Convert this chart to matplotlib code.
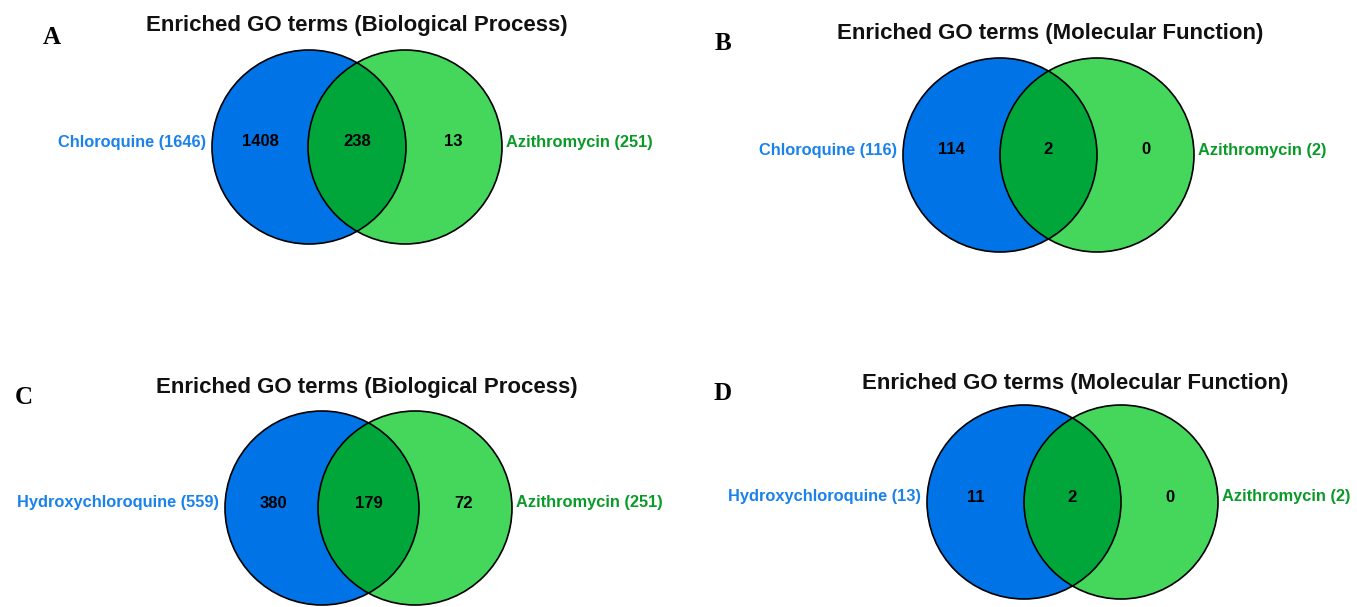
import matplotlib
matplotlib.use("Agg")
import matplotlib.pyplot as plt
from matplotlib.patches import Circle

# Venn counts for each panel
panel_letters = ["A", "B", "C", "D"]
panel_titles = [
    "Enriched GO terms (Biological Process)",
    "Enriched GO terms (Molecular Function)",
    "Enriched GO terms (Biological Process)",
    "Enriched GO terms (Molecular Function)",
]
left_names = ["Chloroquine", "Chloroquine", "Hydroxychloroquine", "Hydroxychloroquine"]
right_names = ["Azithromycin", "Azithromycin", "Azithromycin", "Azithromycin"]
left_only = [1408, 114, 380, 11]
shared = [238, 2, 179, 2]
right_only = [13, 0, 72, 0]

# layout in pixels: circle centres, title and letter positions
left_cx = [309, 1000, 322, 1024]
right_cx = [405, 1097, 415, 1121]
circle_cy = [147, 155, 508, 502]
radius = 97
title_xy = [(357, 26), (1050, 33), (367, 387), (1075, 383)]
letter_xy = [(52, 38), (723, 44), (24, 398), (723, 394)]

blue = "#0073e6"
light_green = "#45d65c"
dark_green = "#00a63a"
blue_text = "#1a82ea"
green_text = "#0a9a28"

W, H = 1357, 607
fig = plt.figure(figsize=(W / 100, H / 100), dpi=100)
ax = fig.add_axes([0, 0, 1, 1])
ax.set_xlim(0, W)
ax.set_ylim(H, 0)
ax.set_aspect("equal")
ax.axis("off")

sans = ["Liberation Sans", "DejaVu Sans"]

for i in range(4):
    lx, rx, cy = left_cx[i], right_cx[i], circle_cy[i]
    left = Circle((lx, cy), radius, facecolor=blue, edgecolor="none", zorder=1)
    right = Circle((rx, cy), radius, facecolor=light_green, edgecolor="none", zorder=1)
    ax.add_patch(left)
    ax.add_patch(right)

    # overlap region: right circle clipped by the left one
    lens = Circle((rx, cy), radius, facecolor=dark_green, edgecolor="none", zorder=2)
    ax.add_patch(lens)
    lens.set_clip_path(left)

    for cx in (lx, rx):
        ax.add_patch(Circle((cx, cy), radius, facecolor="none",
                            edgecolor="black", lw=1.2, zorder=3))

    ty = cy - 5
    num_style = dict(ha="center", va="center", fontsize=12, fontweight="bold",
                     family=sans, zorder=4)
    ax.text(lx - radius / 2, ty, str(left_only[i]), **num_style)
    ax.text((lx + rx) / 2, ty, str(shared[i]), **num_style)
    ax.text(rx + radius / 2, ty, str(right_only[i]), **num_style)

    left_total = left_only[i] + shared[i]
    right_total = right_only[i] + shared[i]
    ax.text(lx - radius - 6, ty, f"{left_names[i]} ({left_total})", ha="right",
            va="center", fontsize=11.8, fontweight="bold", color=blue_text,
            family=sans, zorder=4)
    ax.text(rx + radius + 4, ty, f"{right_names[i]} ({right_total})", ha="left",
            va="center", fontsize=11.8, fontweight="bold", color=green_text,
            family=sans, zorder=4)

    ax.text(*title_xy[i], panel_titles[i], ha="center", va="center",
            fontsize=16, fontweight="bold", family=sans, color="#111111")
    ax.text(*letter_xy[i], panel_letters[i], ha="center", va="center",
            fontsize=18, fontweight="bold", family=["Liberation Serif", "DejaVu Serif"])

fig.savefig("out.png", dpi=100, facecolor="white")
